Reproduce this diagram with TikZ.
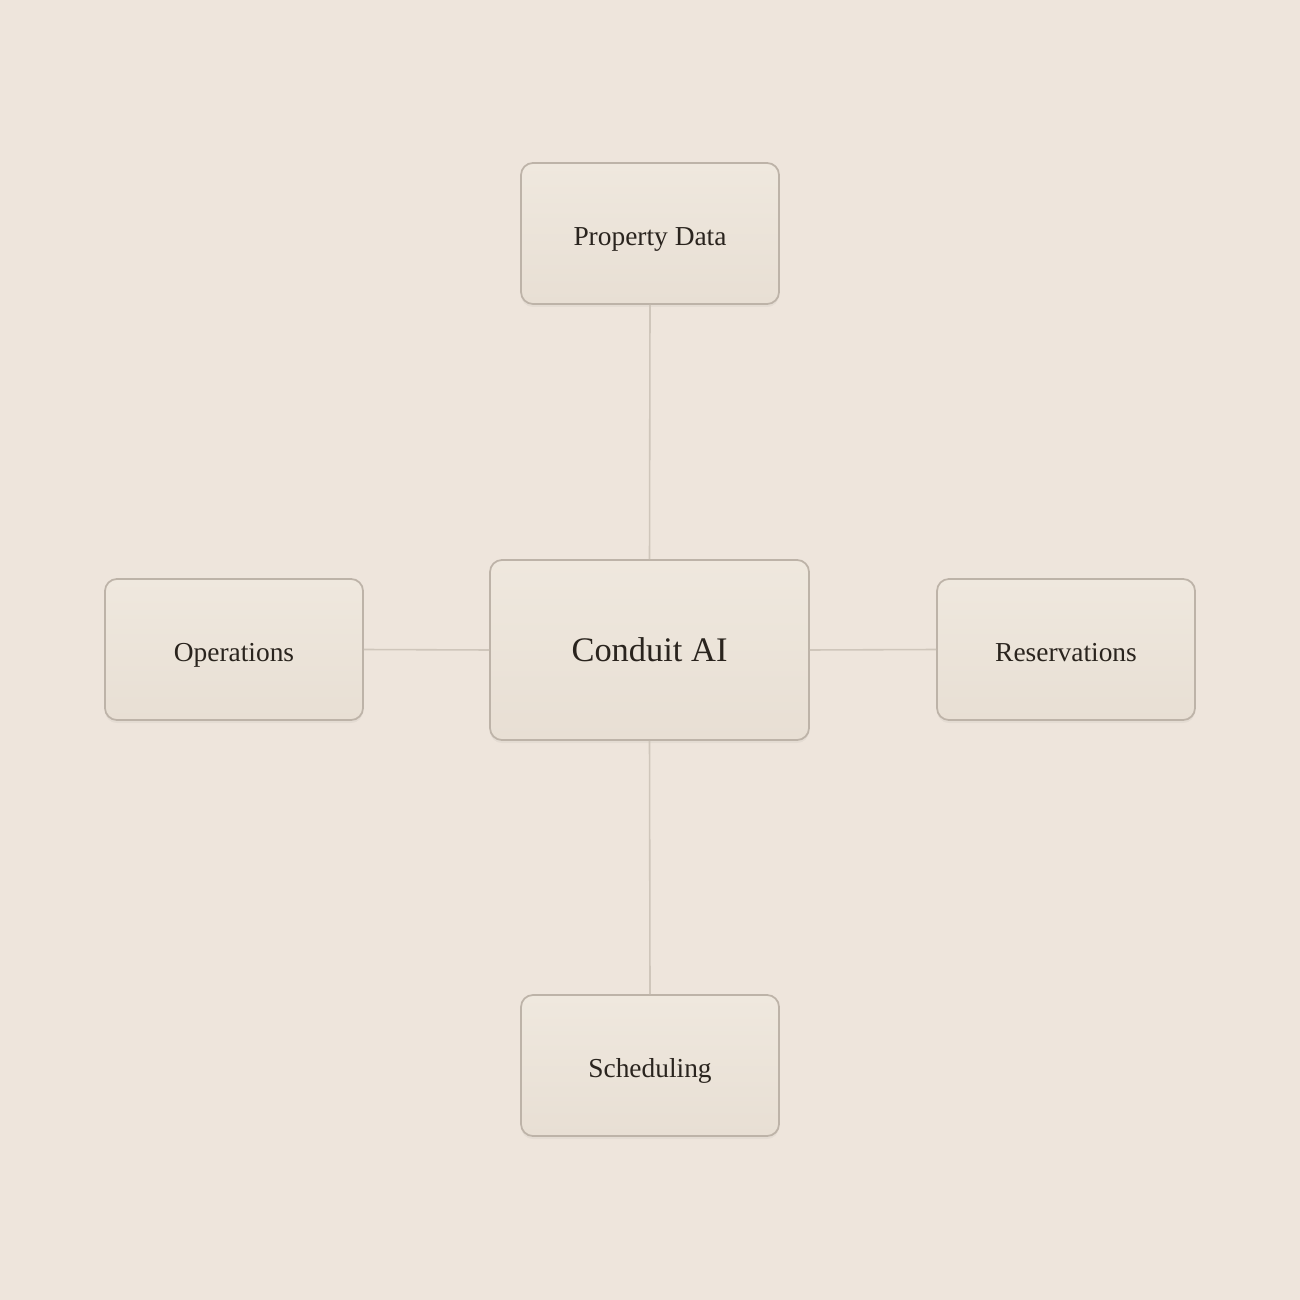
\documentclass[tikz,border=0pt]{standalone}
\usepackage{xcolor}
\usepackage{fontspec}
\setmainfont{Liberation Serif}
\usepackage{tikz}
\usetikzlibrary{shadows}
\definecolor{bg}{HTML}{EEE5DC}
\definecolor{boxtop}{HTML}{EFE8DE}
\definecolor{boxbot}{HTML}{E8DFD4}
\definecolor{edge}{HTML}{BDB3A8}
\definecolor{wire}{HTML}{CFC6BB}
\definecolor{ink}{HTML}{2A241E}
\tikzset{
  card/.style={draw=edge, line width=0.5pt, rounded corners=3.4pt,
    top color=boxtop, bottom color=boxbot,
    drop shadow={shadow xshift=0pt, shadow yshift=-0.03cm, opacity=0.04, fill=black},
    minimum width=2.58cm, minimum height=1.41cm, inner sep=0pt,
    text height=0.662em, text depth=0pt,
    text=ink, font=\fontsize{7.8}{9}\selectfont},
  hub/.style={card, minimum width=3.19cm, minimum height=1.80cm,
    font=\fontsize{9.8}{11}\selectfont},
  link/.style={draw=wire, line width=0.45pt},
}
\begin{document}
\begin{tikzpicture}
  % canvas, 1px = 0.01cm, y measured downward
  \fill[bg] (0,0) rectangle (13,-13);
  \useasboundingbox (0,0) rectangle (13,-13);
  \coordinate (C) at (6.495,-6.50);
  \coordinate (T) at (6.50,-2.335);
  \coordinate (B) at (6.50,-10.655);
  \coordinate (L) at (2.34,-6.495);
  \coordinate (R) at (10.66,-6.495);
  % hub and the four cards
  \node[hub] (core) at (C) {Conduit AI};
  \node[card] (prop) at (T) {Property Data};
  \node[card] (ops) at (L) {Operations};
  \node[card] (res) at (R) {Reservations};
  \node[card] (sched) at (B) {Scheduling};
  % links
  \draw[link] (prop.south) -- (core.north);
  \draw[link] (core.south) -- (sched.north);
  \draw[link] (ops.east) -- (core.west);
  \draw[link] (core.east) -- (res.west);
\end{tikzpicture}
\end{document}
